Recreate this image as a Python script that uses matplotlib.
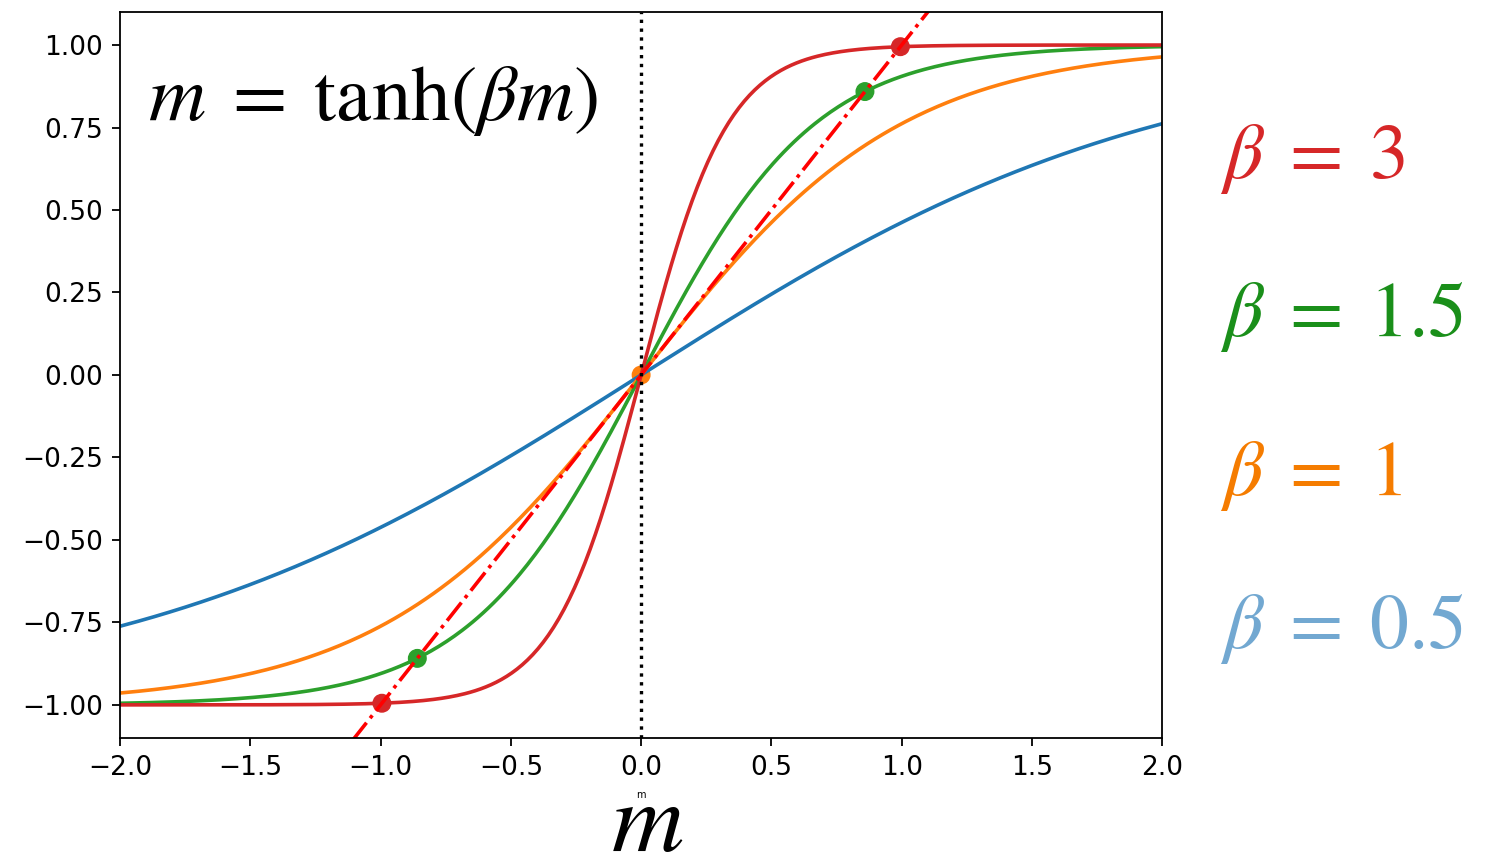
import numpy as np
import matplotlib
matplotlib.use("Agg")
import matplotlib.pyplot as plt

plt.rcParams['mathtext.fontset'] = 'stix'

# curves m -> tanh(beta * m)
betas = [0.5, 1, 1.5, 3]
curve_colors = ['#1f77b4', '#ff7f0e', '#2ca02c', '#d62728']
label_texts = [r'$\beta\;=\;3$', r'$\beta\;=\;1.5$', r'$\beta\;=\;1$', r'$\beta\;=\;0.5$']
label_colors = ['#d62728', '#1a8f1a', '#f57c00', '#72a8d1']

# fixed points (m* = tanh(beta m*))
fp_m = [-0.995, 0.995, -0.859, 0.859, 0.0]
fp_colors = ['#d62728', '#d62728', '#2ca02c', '#2ca02c', '#ff7f0e']

xticks = [-2.0, -1.5, -1.0, -0.5, 0.0, 0.5, 1.0, 1.5, 2.0]
yticks = [-1.0, -0.75, -0.5, -0.25, 0.0, 0.25, 0.5, 0.75, 1.0]

fig = plt.figure(figsize=(14.91, 8.6), dpi=100)
ax = fig.add_axes([0.0805, 0.142, 0.699, 0.844])

m = np.linspace(-2, 2, 400)
ax.scatter(fp_m, fp_m, s=160, c=fp_colors, zorder=1)
for b, c in zip(betas, curve_colors):
    ax.plot(m, np.tanh(b * m), color=c, lw=2.6)
ax.plot(m, m, 'r-.', lw=2.6)
ax.axvline(0, color='k', ls=':', lw=2.4)

ax.set_xlim(-2, 2)
ax.set_ylim(-1.1, 1.1)
ax.set_xticks(xticks)
ax.set_yticks(yticks)
ax.set_xticklabels([f'{v:.1f}'.replace('-', '\u2212') for v in xticks])
ax.set_yticklabels([f'{v:.2f}'.replace('-', '\u2212') for v in yticks])
ax.tick_params(labelsize=19, width=1.3, length=6, pad=6)
for s in ax.spines.values():
    s.set_linewidth(1.3)
ax.set_xlabel('m', fontsize=7, labelpad=7)

ax.text(0.027, 0.879, r'$m\;=\;\mathrm{tanh}(\beta m)$', transform=ax.transAxes,
        fontsize=57, va='center', ha='left')

label_y = [0.816, 0.633, 0.448, 0.27]
for t, c, y in zip(label_texts, label_colors, label_y):
    fig.text(0.818, y, t, color=c, fontsize=56, va='center', ha='left')

fig.text(0.434, 0.043, r'$m$', fontsize=72, ha='center', va='center')

fig.savefig('out.png', dpi=100)
